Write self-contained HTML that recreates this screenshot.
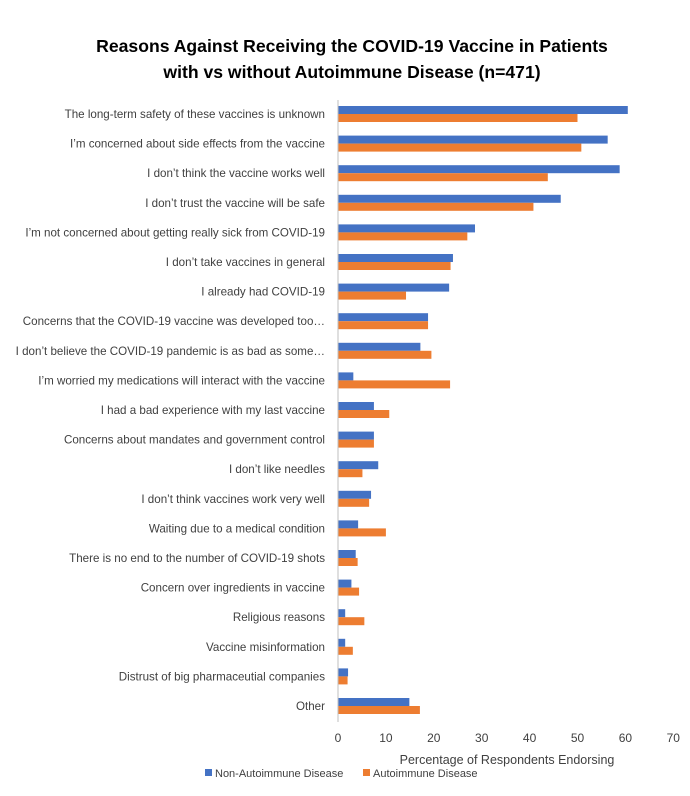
<!DOCTYPE html>
<html><head><meta charset="utf-8"><style>
body{margin:0;background:#fff;font-family:"Liberation Sans",sans-serif;}
svg text{font-family:"Liberation Sans",sans-serif;fill:#404040;}
</style></head><body>
<svg id="c" width="690" height="791" xmlns="http://www.w3.org/2000/svg">
<text x="352" y="52" text-anchor="middle" font-size="17.6" font-weight="bold" style="fill:#000">Reasons Against Receiving the COVID-19 Vaccine in Patients</text>
<text x="352" y="78" text-anchor="middle" font-size="17.6" font-weight="bold" style="fill:#000">with vs without Autoimmune Disease (n=471)</text>
<g id="bars"></g>
<line x1="338" y1="100" x2="338" y2="722" stroke="#bfbfbf"/>
<text x="507" y="764" text-anchor="middle" font-size="12.5">Percentage of Respondents Endorsing</text>
<rect x="205" y="769" width="7" height="7" fill="#4472C4"/>
<text x="215" y="777" font-size="11">Non-Autoimmune Disease</text>
<rect x="363" y="769" width="7" height="7" fill="#ED7D31"/>
<text x="373" y="777" font-size="11">Autoimmune Disease</text>
</svg>
<script>
const categories=["The long-term safety of these vaccines is unknown","I’m concerned about side effects from the vaccine","I don’t think the vaccine works well","I don’t trust the vaccine will be safe","I’m not concerned about getting really sick from COVID-19","I don’t take vaccines in general","I already had COVID-19","Concerns that the COVID-19 vaccine was developed too…","I don’t believe the COVID-19 pandemic is as bad as some…","I’m worried my medications will interact with the vaccine","I had a bad experience with my last vaccine","Concerns about mandates and government control","I don’t like needles","I don’t think vaccines work very well","Waiting due to a medical condition","There is no end to the number of COVID-19 shots","Concern over ingredients in vaccine","Religious reasons","Vaccine misinformation","Distrust of big pharmaceutial companies","Other"];
const nonAutoimmune=[60.5,56.3,58.8,46.5,28.6,24,23.2,18.8,17.2,3.2,7.5,7.5,8.4,6.9,4.2,3.7,2.8,1.5,1.5,2.1,14.9];
const autoimmune=[50,50.8,43.8,40.8,27,23.5,14.2,18.8,19.5,23.4,10.7,7.5,5.1,6.5,10,4.1,4.4,5.5,3.1,2,17.1];
const ticks=[0,10,20,30,40,50,60,70];
const NS="http://www.w3.org/2000/svg";
const svg=document.getElementById('c'),g=document.getElementById('bars');
const x=v=>338+v*4.79;
const y=i=>114+i*29.6;
function mk(t,a){const e=document.createElementNS(NS,t);for(const k in a)e.setAttribute(k,a[k]);return e;}
categories.forEach((c,i)=>{
 const t=mk('text',{x:325,y:y(i)+4,'text-anchor':'end','font-size':'11.6'});t.textContent=c;
 
 
 g.appendChild(t);
 const b=mk('rect',{x:x(0),y:y(i)-8,width:x(nonAutoimmune[i])-x(0),height:8,fill:'#4472C4'});
 
 
 g.appendChild(b);
 const o=mk('rect',{x:x(0),y:y(i),width:x(autoimmune[i])-x(0),height:8,fill:'#ED7D31'});
 
 
 g.appendChild(o);
});
ticks.forEach(v=>{
 const t=mk('text',{x:x(v),y:742,'text-anchor':'middle','font-size':'12'});t.textContent=v;
 
 
 svg.appendChild(t);
});
</script>
</body></html>
